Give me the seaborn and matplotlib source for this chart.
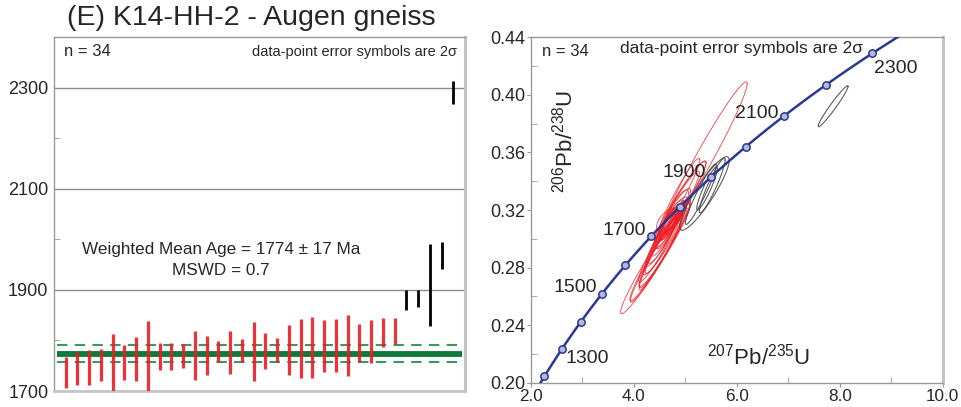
import numpy as np
import pandas as pd
import matplotlib
matplotlib.use("Agg")
import matplotlib.pyplot as plt
import seaborn as sns

# ---------------- data ----------------
# left panel: ages (Ma) and 2-sigma errors of each analysis
ages = [1737, 1744, 1746, 1752, 1754, 1756, 1763, 1764, 1768, 1768,
        1769, 1770, 1770, 1778, 1776, 1780, 1778, 1779, 1781, 1781,
        1784, 1786, 1789, 1790, 1790, 1795, 1798, 1816, 1818,
        1880, 1883, 1910, 1968, 2290]
errs = [30.5, 33, 35, 31.5, 59, 35, 43.5, 74, 26, 27,
        24, 49, 38, 21.5, 42.5, 23.5, 57.5, 36, 23, 50,
        59, 59.6, 51.4, 52, 60.6, 37.5, 42.5, 28, 26,
        20.5, 17.6, 81, 26, 22.5]
used = [True] * 29 + [False] * 5
mean_age = 1774
mean_err = 17
mswd = 0.7

# right panel: ellipses (207Pb/235U, 206Pb/238U, 2s errors, rho)
ell_x = [5.35, 4.67, 4.42, 4.50, 4.55, 4.48, 4.60, 4.52, 4.62, 4.90,
         4.95, 4.85, 4.88, 4.70, 4.75, 4.65, 4.58, 4.72, 4.80, 4.56,
         4.68, 4.62, 4.78, 4.64, 4.55, 4.45, 4.70, 4.82, 4.66,
         5.37, 5.30, 5.52, 5.42, 7.87]
ell_y = [0.355, 0.313, 0.2865, 0.291, 0.2935, 0.289, 0.297, 0.292, 0.300, 0.326,
         0.328, 0.322, 0.330, 0.310, 0.314, 0.306, 0.302, 0.312, 0.318, 0.298,
         0.309, 0.305, 0.316, 0.308, 0.300, 0.292, 0.312, 0.320, 0.3105,
         0.3315, 0.331, 0.337, 0.335, 0.392]
ell_ex = [0.85, 0.23, 0.68, 0.58, 0.45, 0.55, 0.50, 0.42, 0.40, 0.50,
          0.45, 0.42, 0.40, 0.30, 0.28, 0.32, 0.35, 0.22, 0.30, 0.38,
          0.18, 0.20, 0.20, 0.26, 0.28, 0.36, 0.15, 0.24, 0.14,
          0.48, 0.30, 0.25, 0.20, 0.29]
ell_ey = [0.054, 0.0083, 0.0385, 0.034, 0.029, 0.033, 0.030, 0.026, 0.024, 0.028,
          0.026, 0.025, 0.026, 0.016, 0.015, 0.018, 0.021, 0.012, 0.017, 0.023,
          0.010, 0.012, 0.011, 0.015, 0.017, 0.022, 0.009, 0.014, 0.008,
          0.0255, 0.021, 0.019, 0.015, 0.0142]
ell_rho = [0.975, 0.55, 0.97, 0.97, 0.96, 0.97, 0.96, 0.95, 0.95, 0.96,
           0.95, 0.95, 0.96, 0.90, 0.88, 0.92, 0.93, 0.85, 0.90, 0.94,
           0.80, 0.82, 0.80, 0.88, 0.90, 0.94, 0.75, 0.85, 0.70,
           0.90, 0.95, 0.93, 0.92, 0.97]

# concordia tick ages (Ma) and labelled ones
conc_ticks = [1200, 1300, 1400, 1500, 1600, 1700, 1800, 1900, 2000, 2100, 2200, 2300]
conc_labels = ["1300", "1500", "1700", "1900", "2100", "2300"]

title = "(E) K14-HH-2 - Augen gneiss"

# ---------------- style ----------------
sns.set_style("white")
plt.rcParams["font.family"] = ["Liberation Sans", "DejaVu Sans"]
plt.rcParams["mathtext.default"] = "regular"

fig = plt.figure(figsize=(9.62, 4.07), dpi=100)
ax1 = fig.add_axes([0.0561, 0.0393, 0.4273, 0.8698])
ax2 = fig.add_axes([0.552, 0.059, 0.428, 0.850])

spine_c = "#9a9a9a"
red = "#ee1c24"

# ---------------- left panel ----------------
df = pd.DataFrame({"idx": np.arange(1, len(ages) + 1), "age": ages, "err": errs, "used": used})
df["lo"] = df["age"] - df["err"]
df["hi"] = df["age"] + df["err"]

ax1.set_xlim(0, 35)
ax1.set_ylim(1700, 2400)
for yv in [1900, 2100, 2300]:
    ax1.axhline(yv, color="#8c8c8c", lw=1.0, zorder=0)

ax1.hlines([mean_age], 0.3, 34.7, color="#0b7a3b", lw=4.2, zorder=2)
ax1.hlines([mean_age - mean_err, mean_age + mean_err], 0.3, 34.7,
           color="#3a9a5c", lw=1.5, linestyles=(0, (5, 3.5)), zorder=2)

d_used = df[df["used"]]
d_rej = df[~df["used"]]
ax1.vlines(d_used["idx"], d_used["lo"], d_used["hi"], color=red, lw=2.3, alpha=0.9, zorder=3)
ax1.vlines(d_rej["idx"], d_rej["lo"], d_rej["hi"], color="black", lw=2.0, zorder=3)

ax1.set_yticks([1700, 1900, 2100, 2300])
ax1.set_yticks([1800, 2000, 2200], minor=True)
ax1.set_xticks([])
ax1.tick_params(axis="y", which="major", direction="out", length=3, color=spine_c,
                labelsize=13, pad=1)
ax1.tick_params(axis="y", which="minor", direction="in", length=4, color=spine_c, left=True)
for s in ax1.spines.values():
    s.set_color(spine_c)
    s.set_linewidth(1.0)
ax1.spines["right"].set_color("#c4c4c4")
ax1.spines["right"].set_linewidth(2.2)
ax1.spines["bottom"].set_color("#c4c4c4")
ax1.spines["bottom"].set_linewidth(2.0)

ax1.text(0.024, 0.958, "n = 34", transform=ax1.transAxes, ha="left", va="center", fontsize=12)
ax1.text(0.98, 0.958, "data-point error symbols are 2σ", transform=ax1.transAxes,
         ha="right", va="center", fontsize=10.5)
ax1.text(14.2, 1980, f"Weighted Mean Age = {mean_age} ± {mean_err} Ma", ha="center",
         va="center", fontsize=12.3)
ax1.text(14.2, 1938, f"MSWD = {mswd}", ha="center", va="center", fontsize=12.3)

fig.text(0.0695, 0.955, title, ha="left", va="center", fontsize=20.5)

# ---------------- right panel ----------------
l238 = 1.55125e-4  # per Ma
l235 = 9.8485e-4
t = np.linspace(1150, 2400, 400)
curve = pd.DataFrame({"x": np.exp(l235 * t) - 1, "y": np.exp(l238 * t) - 1})
ct = np.array(conc_ticks, dtype=float)
marks = pd.DataFrame({"x": np.exp(l235 * ct) - 1, "y": np.exp(l238 * ct) - 1})

ax2.set_xlim(2.0, 10.0)
ax2.set_ylim(0.20, 0.44)

theta = np.linspace(0, 2 * np.pi, 200)
for i in range(len(ell_x)):
    ex, ey, r = ell_ex[i], ell_ey[i], ell_rho[i]
    cov = np.array([[ex * ex, r * ex * ey], [r * ex * ey, ey * ey]])
    L = np.linalg.cholesky(cov)
    pts = L @ np.vstack([np.cos(theta), np.sin(theta)])
    col = red if used[i] else "#404040"
    ax2.plot(ell_x[i] + pts[0], ell_y[i] + pts[1], color=col,
             lw=0.6 if used[i] else 0.8, alpha=0.85, zorder=2)

sns.lineplot(data=curve, x="x", y="y", sort=False, color="#2b3990", lw=1.8, ax=ax2, zorder=4)
sns.scatterplot(data=marks, x="x", y="y", ax=ax2, s=28, marker="o",
                facecolor="#b3b8e0", edgecolor="#2b3990", linewidth=1.1, zorder=5)

lab_kw = dict(fontsize=14, va="center")
ax2.text(2.67, 0.2173, conc_labels[0], ha="left", **lab_kw)
ax2.text(3.285, 0.2659, conc_labels[1], ha="right", **lab_kw)
ax2.text(4.225, 0.3061, conc_labels[2], ha="right", **lab_kw)
ax2.text(5.396, 0.3457, conc_labels[3], ha="right", **lab_kw)
ax2.text(6.815, 0.3873, conc_labels[4], ha="right", **lab_kw)
ax2.text(8.657, 0.4185, conc_labels[5], ha="left", **lab_kw)

ax2.set_xlabel("")
ax2.set_ylabel("")
ax2.text(0.552, 0.075, r"$^{207}$Pb/$^{235}$U", transform=ax2.transAxes,
         ha="center", va="center", fontsize=16)
ax2.text(0.082, 0.70, r"$^{206}$Pb/$^{238}$U", transform=ax2.transAxes,
         ha="center", va="center", fontsize=16, rotation=90)

ax2.text(0.026, 0.957, "n = 34", transform=ax2.transAxes, ha="left", va="center", fontsize=12)
ax2.text(0.51, 0.968, "data-point error symbols are 2σ", transform=ax2.transAxes,
         ha="center", va="center", fontsize=12.5)

ax2.set_xticks([2, 4, 6, 8, 10])
ax2.set_xticklabels(["2.0", "4.0", "6.0", "8.0", "10.0"])
ax2.set_xticks([3, 5, 7, 9], minor=True)
ax2.set_yticks([0.20, 0.24, 0.28, 0.32, 0.36, 0.40, 0.44])
ax2.set_yticklabels(["0.20", "0.24", "0.28", "0.32", "0.36", "0.40", "0.44"])
ax2.set_yticks([0.22, 0.26, 0.30, 0.34, 0.38, 0.42], minor=True)
ax2.tick_params(which="major", direction="out", length=3, color=spine_c, labelsize=13, pad=1,
                bottom=True, left=True)
ax2.tick_params(axis="x", which="major", labelsize=12.3)
ax2.tick_params(which="minor", direction="in", length=4, color=spine_c, bottom=True, left=True)
for s in ax2.spines.values():
    s.set_color(spine_c)
    s.set_linewidth(1.0)
ax2.spines["right"].set_color("#c4c4c4")
ax2.spines["right"].set_linewidth(2.2)

fig.savefig("out.png", dpi=100)
